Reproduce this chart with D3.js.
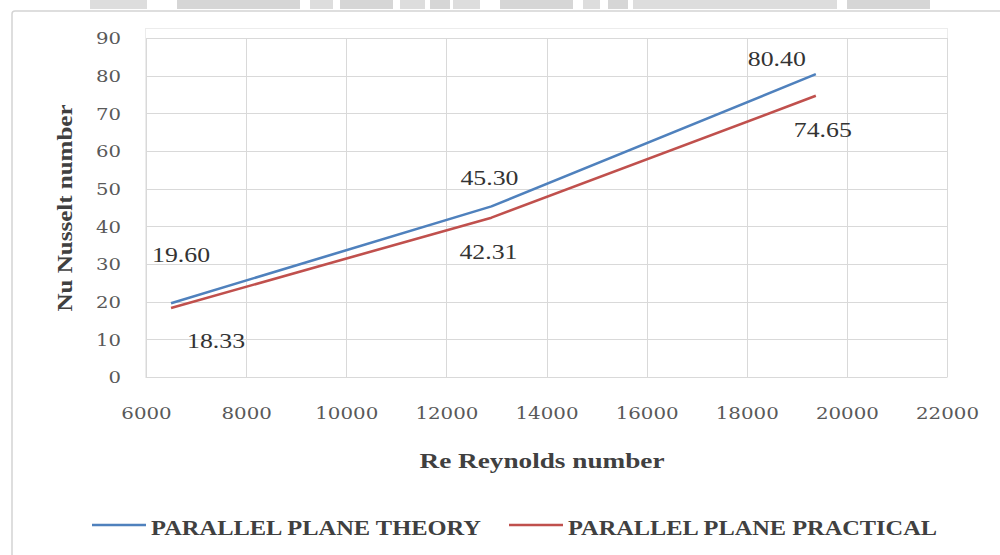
<!DOCTYPE html>
<html>
<head>
<meta charset="utf-8">
<script src="https://cdn.jsdelivr.net/npm/d3@7"></script>
<style>
  html, body { margin: 0; padding: 0; background: #fff; }
  svg { display: block; }
</style>
</head>
<body>
<svg id="chart" width="1000" height="555"></svg>
<script>
// chart data
const reynolds = [6500, 12900, 19380];
const theory = [19.60, 45.30, 80.40];
const practical = [18.33, 42.31, 74.65];
const seriesNames = ['PARALLEL PLANE THEORY', 'PARALLEL PLANE PRACTICAL'];
const xTicks = [6000, 8000, 10000, 12000, 14000, 16000, 18000, 20000, 22000];
const yTicks = [0, 10, 20, 30, 40, 50, 60, 70, 80, 90];

// label placement relative to each point (dx to centre, dy to baseline)
const theoryLabelOffsets = [[10, -41], [-2, -21], [-39, -8]];
const practicalLabelOffsets = [[45, 40], [-3, 41], [7, 41]];

// greyed page header showing above the chart (decoration only)
const headerBits = [[90, 147], [177, 300], [310, 333], [340, 393], [400, 425], [430, 450],
  [453, 480], [500, 573], [583, 600], [608, 628], [633, 837], [847, 930]];

const COLORS = {
  theory: '#4f81bd',
  practical: '#c0504d',
  grid: '#d9d9d9',
  tick: '#595959',
  title: '#404040',
  label: '#333333'
};

const svg = d3.select('#chart');

// header strip
svg.append('g').selectAll('rect')
  .data(headerBits)
  .join('rect')
  .attr('x', d => d[0])
  .attr('y', 0)
  .attr('width', d => d[1] - d[0])
  .attr('height', 9)
  .attr('fill', (d, i) => i % 2 ? '#d6d6d6' : '#dddddd');

// chart frame
svg.append('rect')
  .attr('x', 12).attr('y', 11)
  .attr('width', 1000).attr('height', 560)
  .attr('rx', 3)
  .attr('fill', '#fff')
  .attr('stroke', '#d4d4d4')
  .attr('stroke-width', 1.5);

const x = d3.scaleLinear().domain([6000, 22000]).range([146, 947]);
const y = d3.scaleLinear().domain([0, 90]).range([377, 38]);

// faint plot area border
svg.append('rect')
  .attr('x', 145.5).attr('y', 28.5)
  .attr('width', 802).attr('height', 349)
  .attr('fill', 'none')
  .attr('stroke', '#ececec');

// gridlines
svg.append('g').selectAll('line')
  .data(yTicks)
  .join('line')
  .attr('x1', x(6000)).attr('x2', x(22000))
  .attr('y1', d => Math.round(y(d)) + 0.5)
  .attr('y2', d => Math.round(y(d)) + 0.5)
  .attr('stroke', COLORS.grid);

svg.append('g').selectAll('line')
  .data(xTicks)
  .join('line')
  .attr('x1', d => Math.round(x(d)) + 0.5)
  .attr('x2', d => Math.round(x(d)) + 0.5)
  .attr('y1', y(90)).attr('y2', y(0))
  .attr('stroke', COLORS.grid);

// axes (labels only, Excel style)
const yAxis = svg.append('g')
  .attr('transform', 'translate(121,0)')
  .call(d3.axisLeft(y).tickValues(yTicks).tickSize(0).tickPadding(0));
yAxis.select('.domain').remove();
yAxis.selectAll('text')
  .attr('dy', '0.36em')
  .style('font-family', '"DejaVu Serif", serif')
  .style('font-size', '16px')
  .attr('fill', COLORS.tick)
  .attr('textLength', d => String(d).length * 12.5)
  .attr('lengthAdjust', 'spacingAndGlyphs');

const xAxis = svg.append('g')
  .attr('transform', 'translate(0,407)')
  .call(d3.axisBottom(x).tickValues(xTicks).tickFormat(d3.format('d')).tickSize(0).tickPadding(0));
xAxis.select('.domain').remove();
xAxis.selectAll('text')
  .attr('dy', '0.71em')
  .style('font-family', '"DejaVu Serif", serif')
  .style('font-size', '17px')
  .attr('fill', COLORS.tick)
  .attr('textLength', d => String(d).length * 12.6)
  .attr('lengthAdjust', 'spacingAndGlyphs');

// axis titles
svg.append('text')
  .attr('x', 542).attr('y', 468)
  .attr('text-anchor', 'middle')
  .style('font-family', '"Liberation Serif", serif')
  .style('font-size', '22px')
  .style('font-weight', 'bold')
  .attr('fill', COLORS.title)
  .attr('textLength', 245)
  .attr('lengthAdjust', 'spacingAndGlyphs')
  .text('Re Reynolds number');

svg.append('text')
  .attr('transform', 'translate(72,208) rotate(-90)')
  .attr('text-anchor', 'middle')
  .style('font-family', '"Liberation Serif", serif')
  .style('font-size', '22px')
  .style('font-weight', 'bold')
  .attr('fill', COLORS.title)
  .attr('textLength', 207)
  .attr('lengthAdjust', 'spacingAndGlyphs')
  .text('Nu Nusselt number');

// series
const series = [
  { name: seriesNames[0], values: theory, color: COLORS.theory, offsets: theoryLabelOffsets },
  { name: seriesNames[1], values: practical, color: COLORS.practical, offsets: practicalLabelOffsets }
];

const line = d3.line()
  .x(d => x(d[0]))
  .y(d => y(d[1]));

series.forEach(s => {
  const pts = reynolds.map((r, i) => [r, s.values[i]]);

  svg.append('path')
    .datum(pts)
    .attr('d', line)
    .attr('fill', 'none')
    .attr('stroke', s.color)
    .attr('stroke-width', 2.6)
    .attr('stroke-linejoin', 'round');

  svg.append('g').selectAll('text')
    .data(pts)
    .join('text')
    .attr('x', (d, i) => x(d[0]) + s.offsets[i][0])
    .attr('y', (d, i) => y(d[1]) + s.offsets[i][1])
    .attr('text-anchor', 'middle')
    .style('font-family', '"Liberation Serif", "Times New Roman", serif')
    .style('font-size', '22px')
    .attr('fill', COLORS.label)
    .attr('textLength', 58)
    .attr('lengthAdjust', 'spacingAndGlyphs')
    .text(d => d3.format('.2f')(d[1]));
});

// legend
const legendPos = [{ x: 92, w: 330 }, { x: 509, w: 369 }];
series.forEach((s, i) => {
  const g = svg.append('g').attr('transform', `translate(${legendPos[i].x},525)`);
  g.append('line')
    .attr('x1', 0).attr('x2', 54)
    .attr('stroke', s.color)
    .attr('stroke-width', 2.6);
  g.append('text')
    .attr('x', 59).attr('y', 10)
    .style('font-family', '"Liberation Serif", serif')
    .style('font-size', '21px')
    .style('font-weight', 'bold')
    .attr('fill', COLORS.title)
    .attr('textLength', legendPos[i].w)
    .attr('lengthAdjust', 'spacingAndGlyphs')
    .text(s.name);
});
</script>
</body>
</html>
